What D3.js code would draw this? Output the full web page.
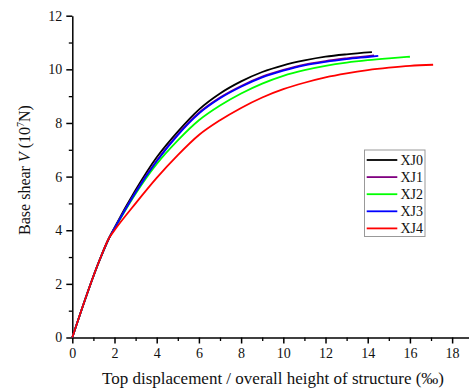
<!DOCTYPE html>
<html>
<head>
<meta charset="utf-8">
<script src="https://cdn.jsdelivr.net/npm/d3@7"></script>
<style>
  html, body { margin: 0; padding: 0; background: #fff; }
  svg { display: block; font-family: "Liberation Serif", "Times New Roman", serif; }
</style>
</head>
<body>
<svg id="chart" width="469" height="389"></svg>
<script>
// Pushover curves: base shear vs. top drift ratio for the five models
const seriesNames = ["XJ0", "XJ1", "XJ2", "XJ3", "XJ4"];
const seriesColors = ["#000000", "#800080", "#00ff00", "#0000ff", "#ff0000"];

const xj0 = [[0,0],[1.3,2.9],[1.75,3.72],[2,4.1],[3,5.5],[4,6.72],[5,7.68],[6,8.5],[7,9.1],[8,9.55],[9,9.9],[10,10.15],[11,10.33],[12,10.47],[13,10.56],[14.2,10.64]];
const xj1 = [[0,0],[1.3,2.9],[1.75,3.72],[2,4.08],[3,5.43],[4,6.6],[5,7.58],[6,8.38],[7,8.95],[8,9.38],[9,9.73],[10,9.98],[11,10.18],[12,10.31],[13,10.41],[14.3,10.52]];
const xj2 = [[0,0],[1.3,2.9],[1.75,3.72],[2,4.06],[3,5.36],[4,6.47],[5,7.35],[6,8.1],[7,8.65],[8,9.1],[9,9.47],[10,9.76],[11,9.97],[12,10.13],[13,10.25],[14,10.34],[15,10.41],[16,10.47]];
const xj3 = [[0,0],[1.3,2.9],[1.75,3.72],[2,4.07],[3,5.41],[4,6.57],[5,7.55],[6,8.35],[7,8.92],[8,9.35],[9,9.7],[10,9.95],[11,10.15],[12,10.28],[13,10.38],[14,10.46],[14.5,10.5]];
const xj4 = [[0,0],[1.3,2.9],[1.75,3.72],[2,4.0],[3,5.0],[4,5.95],[5,6.8],[6,7.55],[7,8.1],[8,8.56],[9,8.95],[10,9.26],[11,9.5],[12,9.7],[13,9.85],[14,9.97],[15,10.06],[16,10.13],[17.1,10.17]];
const seriesData = [xj0, xj1, xj2, xj3, xj4];

const xTickLabels = [0, 2, 4, 6, 8, 10, 12, 14, 16, 18];
const yTickLabels = [0, 2, 4, 6, 8, 10, 12];

const svg = d3.select("#chart");

const x = d3.scaleLinear().domain([0, 18.8]).range([72.3, 469]);
const y = d3.scaleLinear().domain([0, 12]).range([337.5, 15.7]);

// x axis: major ticks with labels, minor ticks in between
const xAxis = svg.append("g").attr("transform", `translate(0,${y(0)})`);
xAxis.call(d3.axisBottom(x).tickValues(xTickLabels).tickSize(6).tickSizeOuter(0).tickPadding(5))
  .call(g => g.select(".domain").attr("stroke-width", 1.5))
  .call(g => g.selectAll(".tick line").attr("stroke-width", 1.5))
  .call(g => g.selectAll("text").attr("font-size", 14).attr("font-family", "Liberation Serif").attr("fill", "#111"));
xAxis.append("g").call(d3.axisBottom(x).tickValues(d3.range(1, 19, 2)).tickSize(3.5).tickFormat(""))
  .call(g => g.select(".domain").remove())
  .call(g => g.selectAll(".tick line").attr("stroke-width", 1.3));

// y axis
const yAxis = svg.append("g").attr("transform", `translate(${x(0)},0)`);
yAxis.call(d3.axisLeft(y).tickValues(yTickLabels).tickSize(6).tickSizeOuter(0).tickPadding(4))
  .call(g => g.select(".domain").attr("stroke-width", 1.5))
  .call(g => g.selectAll(".tick line").attr("stroke-width", 1.5))
  .call(g => g.selectAll("text").attr("font-size", 14).attr("font-family", "Liberation Serif").attr("fill", "#111"));
yAxis.append("g").call(d3.axisLeft(y).tickValues(d3.range(1, 12, 2)).tickSize(3.5).tickFormat(""))
  .call(g => g.select(".domain").remove())
  .call(g => g.selectAll(".tick line").attr("stroke-width", 1.3));

// curves
const line = d3.line()
  .x(d => x(d[0]))
  .y(d => y(d[1]))
  .curve(d3.curveMonotoneX);

svg.append("g").selectAll("path")
  .data(seriesData)
  .join("path")
  .attr("d", line)
  .attr("fill", "none")
  .attr("stroke", (d, i) => seriesColors[i])
  .attr("stroke-width", 1.8)
  .attr("stroke-linejoin", "round");

// axis titles
svg.append("text")
  .attr("x", 273).attr("y", 384)
  .attr("text-anchor", "middle")
  .attr("font-size", 17)
  .attr("fill", "#111")
  .text("Top displacement / overall height of structure (‰)");

const yTitle = svg.append("text")
  .attr("transform", "translate(30,170) rotate(-90)")
  .attr("text-anchor", "middle")
  .attr("font-size", 16)
  .attr("fill", "#111");
yTitle.append("tspan").text("Base shear ");
yTitle.append("tspan").attr("font-style", "italic").text("V");
yTitle.append("tspan").text(" (10");
yTitle.append("tspan").attr("font-size", 10).attr("dy", -6).text("7");
yTitle.append("tspan").attr("dy", 6).text("N)");

// legend
const legend = svg.append("g");
legend.append("rect")
  .attr("x", 364.5).attr("y", 150)
  .attr("width", 60.5).attr("height", 86.5)
  .attr("fill", "#fff")
  .attr("stroke", "#999")
  .attr("stroke-width", 1);
const rows = legend.selectAll("g.row")
  .data(seriesNames)
  .join("g")
  .attr("class", "row")
  .attr("transform", (d, i) => `translate(0,${160 + i * 17.1})`);
rows.append("line")
  .attr("x1", 366.7).attr("x2", 397.3)
  .attr("stroke", (d, i) => seriesColors[i])
  .attr("stroke-width", 1.8);
rows.append("text")
  .attr("x", 400.5).attr("dy", "0.35em")
  .attr("font-size", 14)
  .attr("fill", "#111")
  .text(d => d);
</script>
</body>
</html>
